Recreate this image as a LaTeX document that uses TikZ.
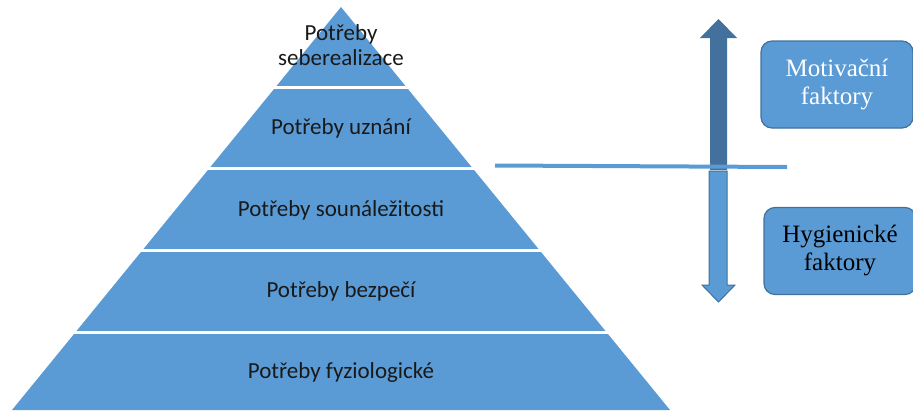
\documentclass[tikz,border=0pt]{standalone}
\usepackage{fontspec}
\setmainfont{Carlito}
\newfontfamily\boxfont{Liberation Serif}
\usepackage{xcolor}

\definecolor{pyrblue}{HTML}{5B9BD5}
\definecolor{pyrdark}{HTML}{41719C}

\tikzset{
  layer/.style={align=center, font=\fontsize{23}{25}\selectfont, text=black!90},
  factor/.style={draw=pyrdark, line width=1.2pt, fill=pyrblue, rounded corners=11pt,
    minimum width=152pt, minimum height=87pt, align=center,
    font=\boxfont\fontsize{25}{28}\selectfont}
}

\begin{document}
\begin{tikzpicture}[x=1pt,y=-1pt]

        \useasboundingbox (0,0) rectangle (913,410);

        \coordinate (top) at (341,7);
        \coordinate (bl) at (12,410);
        \coordinate (br) at (670,410);

        % Draw pyramid
        \fill[pyrblue] (top) -- (br) -- (bl) -- cycle;

        \foreach \y in {87,168,250,332}{
            \pgfmathsetmacro{\dx}{0.8164*(\y-7)+3}
            \draw[white, line width=3pt] ({341-\dx},\y) -- ({341+\dx},\y);
        }

        \node[layer] (l1) at (341,45) {Potřeby\\seberealizace};
        \node[layer] (l2) at (341,128) {Potřeby uznání};
        \node[layer] (l3) at (341,210) {Potřeby sounáležitosti};
        \node[layer] (l4) at (341,291) {Potřeby bezpečí};
        \node[layer] (l5) at (341,372) {Potřeby fyziologické};

        % Draw arrows
        \fill[pyrdark] (710,170) -- (710,38) -- (700,38) -- (718.5,19)
            -- (737,38) -- (727,38) -- (727,170) -- cycle;
        \filldraw[fill=pyrblue, draw=pyrdark, line width=1pt]
            (709,171) -- (709,285) -- (702,285) -- (718.5,302)
            -- (735,285) -- (727,285) -- (727,171) -- cycle;

        \coordinate (s1) at (495,165.5);
        \coordinate (s2) at (787,167);
        \draw[pyrblue, line width=4pt] (s1) -- (s2);

        % Draw factor boxes
        \node[factor, text=white] (mot) at (837,84.5) {Motivační\\faktory};
        \node[factor, text=black] (hyg) at (840,251) {Hygienické\\faktory};

\end{tikzpicture}
\end{document}
